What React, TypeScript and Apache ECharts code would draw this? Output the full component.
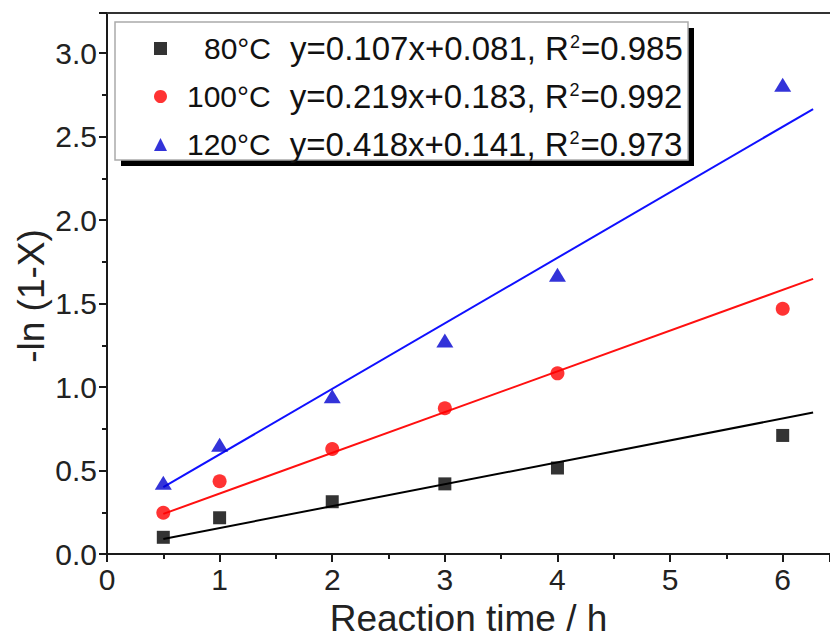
import React, { useEffect, useRef } from "react";
import * as echarts from "echarts";

const timeX = [0.5, 1, 2, 3, 4, 6];
const data80 = [0.1, 0.217, 0.313, 0.42, 0.515, 0.71];
const data100 = [0.247, 0.436, 0.629, 0.873, 1.082, 1.469];
const data120 = [0.426, 0.654, 0.945, 1.278, 1.672, 2.81];

const fitX = [0.5, 6.27];
const fit80 = [0.09, 0.847];
const fit100 = [0.24, 1.648];
const fit120 = [0.4, 2.665];

const seriesNames = ["80°C", "100°C", "120°C"];
const fitTexts = [
  ["y=0.107x+0.081, R", "2", "=0.985"],
  ["y=0.219x+0.183, R", "2", "=0.992"],
  ["y=0.418x+0.141, R", "2", "=0.973"],
];
const xTitle = "Reaction time / h";
const yTitle = "-ln (1-X)";

const FONT = "'Liberation Sans', Arial, sans-serif";

export default function App() {
  const ref = useRef<HTMLDivElement>(null);
  useEffect(() => {
    if (!ref.current) return;
    const chart = echarts.init(ref.current, undefined, { renderer: "svg" });
    const pts = (ys: number[]) => timeX.map((x, i) => [x, ys[i]]);
    const fit = (ys: number[]) => fitX.map((x, i) => [x, ys[i]]);
    const axisLine = { show: true, lineStyle: { color: "#1a1a1a", width: 2 } };
    chart.setOption({
      animation: false,
      backgroundColor: "#fff",
      textStyle: { fontFamily: FONT },
      grid: { left: 107, top: 13, right: 0, bottom: 85.5, containLabel: false },
      graphic: [
        { type: "rect", z: 1, shape: { x: 121, y: 28, width: 573, height: 138 }, style: { fill: "#000" } },
        { type: "rect", z: 2, shape: { x: 115, y: 22, width: 573, height: 138 }, style: { fill: "#fff", stroke: "#aaa", lineWidth: 1.5 } },
        {
          type: "text",
          x: 31,
          y: 296,
          rotation: Math.PI / 2,
          style: { text: yTitle, fontFamily: FONT, fontSize: 37, fill: "#222", align: "center", verticalAlign: "middle" },
        },
      ],
      legend: {
        data: [
          { name: seriesNames[0], icon: "rect" },
          { name: seriesNames[1], icon: "circle" },
          { name: seriesNames[2], icon: "triangle" },
        ],
        orient: "vertical",
        left: 154,
        top: 32,
        padding: 0,
        itemWidth: 13,
        itemHeight: 13,
        itemGap: 15,
        z: 10,
        selectedMode: false,
        formatter: (name: string) => {
          const i = seriesNames.indexOf(name);
          const t = fitTexts[i];
          const tk = i === 0 ? "tp" : "t";
          return `{${tk}|${name}}{e|${t[0]}}{s|${t[1]}}{e|${t[2]}}`;
        },
        textStyle: {
          fontFamily: FONT,
          fontSize: 32,
          lineHeight: 32,
          color: "#111",
          rich: {
            t: { fontFamily: FONT, fontSize: 30, lineHeight: 32, color: "#111", padding: [0, 19, 0, 15] },
            tp: { fontFamily: FONT, fontSize: 30, lineHeight: 32, color: "#111", padding: [0, 19, 0, 32] },
            e: { fontFamily: FONT, fontSize: 33, lineHeight: 32, color: "#111" },
            s: { fontFamily: FONT, fontSize: 18, lineHeight: 18, color: "#111", verticalAlign: "top", padding: [0, 1, 0, 1] },
          },
        },
      },
      xAxis: [
        {
          type: "value",
          min: 0,
          max: 6.42,
          interval: 1,
          name: xTitle,
          nameLocation: "middle",
          nameGap: 46,
          nameTextStyle: { fontFamily: FONT, fontSize: 37, color: "#222" },
          axisLine,
          axisTick: { show: true, inside: false, length: 8, lineStyle: { color: "#1a1a1a", width: 2 } },
          minorTick: { show: true, splitNumber: 2, length: 5, lineStyle: { color: "#1a1a1a", width: 2 } },
          axisLabel: { showMaxLabel: false, fontFamily: FONT, fontSize: 30, color: "#222", margin: 10 },
          splitLine: { show: false },
        },
        {
          type: "value",
          position: "top",
          min: 0,
          max: 6.42,
          axisLine: { show: true, lineStyle: { color: "#333", width: 2 } },
          axisTick: { show: false },
          axisLabel: { show: false },
          splitLine: { show: false },
        },
      ],
      yAxis: {
        type: "value",
        min: 0,
        max: 3.24,
        interval: 0.5,
        axisLine,
        axisTick: { show: true, inside: false, length: 8, lineStyle: { color: "#1a1a1a", width: 2 } },
        minorTick: { show: true, splitNumber: 2, length: 5, lineStyle: { color: "#1a1a1a", width: 2 } },
        axisLabel: {
          showMaxLabel: false,
          fontFamily: FONT,
          fontSize: 30,
          color: "#222",
          margin: 10,
          formatter: (v: number) => v.toFixed(1),
        },
        splitLine: { show: false },
      },
      series: [
        { name: "fit80", type: "line", data: fit(fit80), symbol: "none", lineStyle: { color: "#000", width: 2 }, z: 3 },
        { name: "fit100", type: "line", data: fit(fit100), symbol: "none", lineStyle: { color: "#ff1010", width: 2 }, z: 3 },
        { name: "fit120", type: "line", data: fit(fit120), symbol: "none", lineStyle: { color: "#1010ff", width: 2 }, z: 3 },
        { name: seriesNames[0], type: "scatter", data: pts(data80), symbol: "rect", symbolSize: 13, itemStyle: { color: "#000" }, z: 5 },
        { name: seriesNames[1], type: "scatter", data: pts(data100), symbol: "circle", symbolSize: 14, itemStyle: { color: "#ff0000" }, z: 5 },
        { name: seriesNames[2], type: "scatter", data: pts(data120), symbol: "triangle", symbolSize: [17, 14], itemStyle: { color: "#0000d0" }, z: 5 },
      ],
    });
    return () => chart.dispose();
  }, []);
  return <div ref={ref} style={{ position: "fixed", left: 0, top: 0, width: 830, height: 642 }} />;
}
